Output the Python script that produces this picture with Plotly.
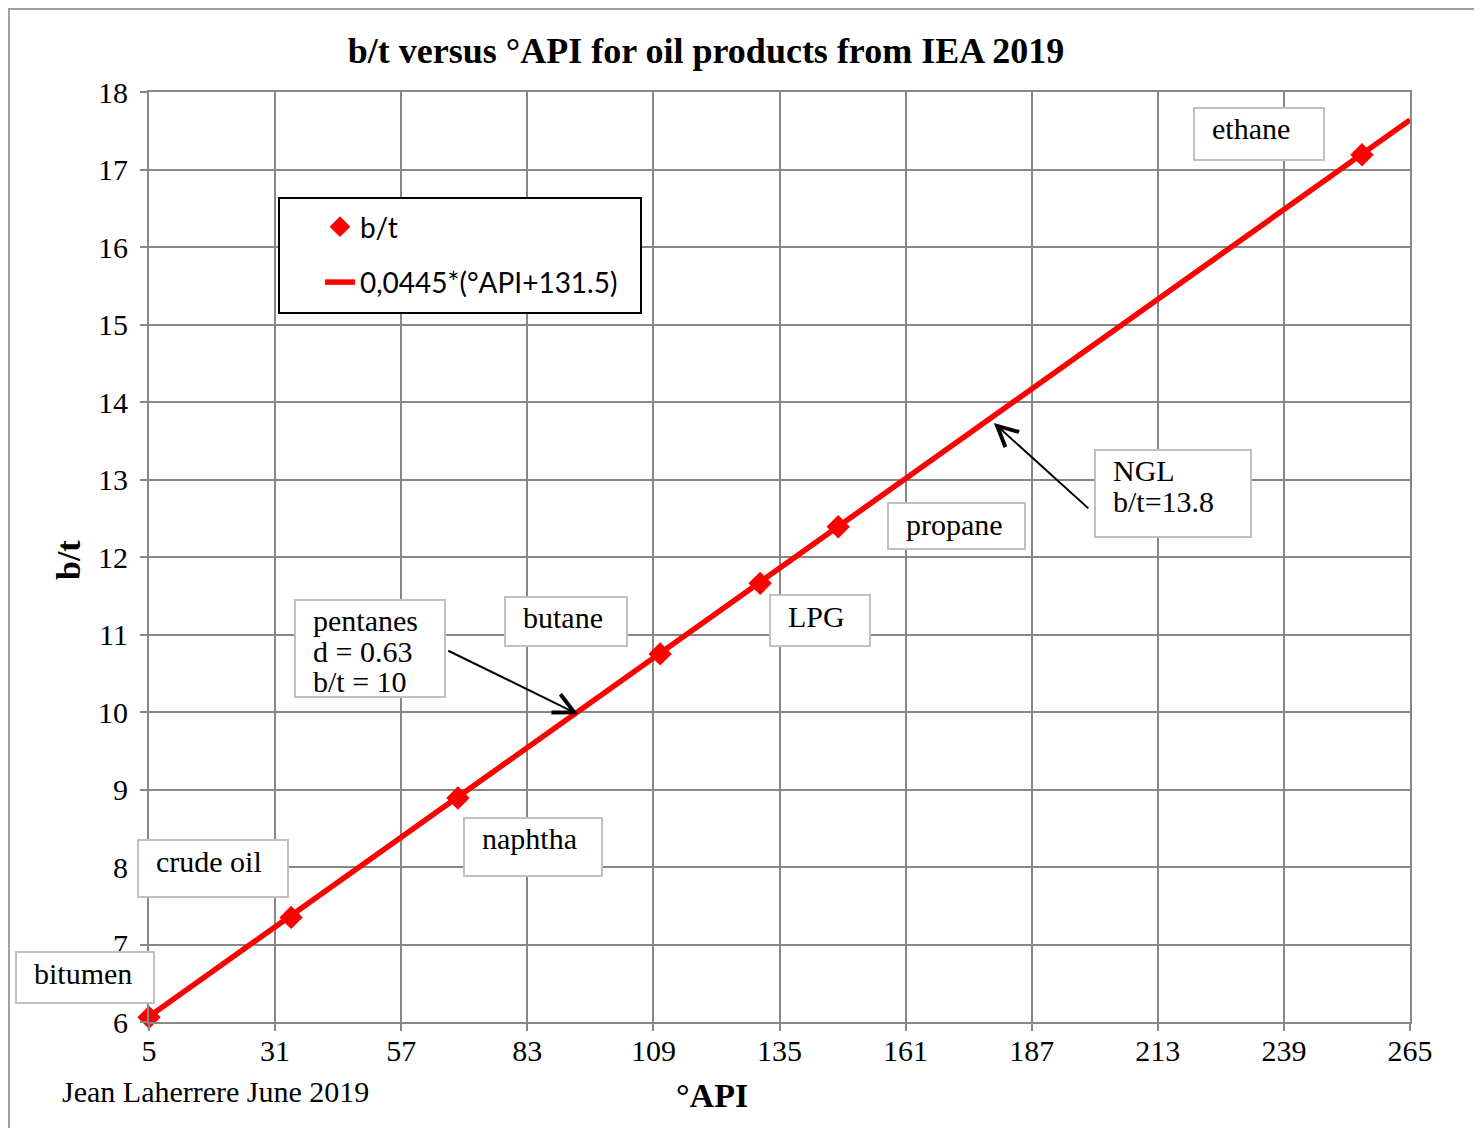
import plotly.graph_objects as go

# values
API = [5, 34.3, 68.7, 110.4, 131.0, 147.1, 255.1]
BT = [6.06, 7.35, 8.89, 10.75, 11.66, 12.39, 17.19]
FIT_API = [5, 265]
FIT_BT = [6.07, 17.64]
X_TICKS = [5, 31, 57, 83, 109, 135, 161, 187, 213, 239, 265]
Y_TICKS = [6, 7, 8, 9, 10, 11, 12, 13, 14, 15, 16, 17, 18]

LABELS = [["ethane"], ["NGL", "b/t=13.8"], ["propane"], ["LPG"], ["butane"],
          ["pentanes", "d = 0.63", "b/t = 10"], ["naphtha"], ["crude oil"], ["bitumen"]]
LABEL_X = [233.9, 216.1, 171.5, 143.4, 91.0, 50.6, 84.2, 18.2, -8.2]
LABEL_Y = [17.46, 12.82, 12.40, 11.18, 11.17, 10.82, 8.26, 7.98, 6.57]
LABEL_W = [132, 158, 139, 102, 124, 152, 140, 152, 140]
LABEL_H = [54, 89, 48, 53, 51, 99, 60, 59, 53]

# arrows: (tail x, tail y) -> (head x, head y)
ARROWS = [((199.0, 12.61), (179.2, 13.73)), ((66.4, 10.80), (93.5, 9.97))]

X_RANGE = [5, 265]
Y_RANGE = [6, 18]

RED = "#ff0000"
GRID = "#878787"
SERIF = "Liberation Serif, Times New Roman, serif"
SANS = "Lato, Open Sans, sans-serif"


def to_paper(x, y):
    # labels may sit outside the axis range (bitumen), so place them in paper units
    return ((x - X_RANGE[0]) / (X_RANGE[1] - X_RANGE[0]),
            (y - Y_RANGE[0]) / (Y_RANGE[1] - Y_RANGE[0]))


fig = go.Figure()
fig.add_trace(go.Scatter(
    x=API, y=BT, mode="markers", name="b/t", legendgroup="a",
    marker=dict(symbol="diamond", size=18, color=RED), cliponaxis=False))
fig.add_trace(go.Scatter(
    x=FIT_API, y=FIT_BT, mode="lines", name="0,0445*(°API+131.5)", legendgroup="b",
    line=dict(color=RED, width=5.5)))

# text boxes: an empty bordered box, then one annotation per line of text
for lines, x, y, w, h in zip(LABELS, LABEL_X, LABEL_Y, LABEL_W, LABEL_H):
    px, py = to_paper(x, y)
    fig.add_annotation(
        x=px, y=py, xref="paper", yref="paper", showarrow=False, text="\u00a0",
        xanchor="center", yanchor="middle",
        width=w - 4, height=h - 4, bgcolor="white", bordercolor="#c0c0c0",
        borderwidth=2, borderpad=0)
    for i, s in enumerate(lines):
        fig.add_annotation(
            x=px, y=py, xref="paper", yref="paper", showarrow=False, text=s,
            xanchor="left", yanchor="middle",
            xshift=-w / 2 + 17, yshift=h / 2 - 22 - 30.5 * i,
            font=dict(family=SERIF, size=30, color="black"))

for (tx, ty), (hx, hy) in ARROWS:
    fig.add_annotation(
        x=hx, y=hy, ax=tx, ay=ty, xref="x", yref="y", axref="x", ayref="y",
        text="", showarrow=True, arrowhead=5, arrowsize=2, arrowwidth=2,
        arrowcolor="black")

# axis titles and signature
fig.add_annotation(x=(704 - 141) / 1261, y=(1014 - 1087) / 930, xref="paper", yref="paper",
                   xanchor="center", yanchor="middle", text="<b>°API</b>", showarrow=False,
                   font=dict(family=SERIF, size=34, color="black"))
fig.add_annotation(x=(60 - 141) / 1261, y=(1014 - 552) / 930, xref="paper", yref="paper",
                   xanchor="center", yanchor="middle", text="<b>b/t</b>", showarrow=False,
                   textangle=-90, font=dict(family=SERIF, size=34, color="black"))
fig.add_annotation(x=(52 - 141) / 1261, y=(1014 - 1083) / 930, xref="paper", yref="paper",
                   xanchor="left", yanchor="middle", text="Jean Laherrere June 2019",
                   showarrow=False, font=dict(family=SERIF, size=30, color="black"))

# outer frame and legend box
fig.add_shape(type="rect", xref="paper", yref="paper",
              x0=(1 - 141) / 1261, x1=(1471 - 141) / 1261,
              y0=(1014 - 1140) / 930, y1=(1014 - 1) / 930,
              line=dict(color="#a0a0a0", width=2), layer="below")
fig.add_shape(type="rect", xref="paper", yref="paper",
              x0=130 / 1261, x1=492 / 1261, y0=(1014 - 305) / 930, y1=(1014 - 190) / 930,
              line=dict(color="black", width=2), fillcolor="white", layer="above")

axis = dict(showgrid=True, gridcolor=GRID, gridwidth=2, zeroline=False,
            showline=True, linecolor=GRID, linewidth=2, mirror=True,
            ticks="outside", ticklen=7, tickwidth=2, tickcolor=GRID,
            tickfont=dict(family=SERIF, size=30, color="black"))
fig.update_xaxes(range=X_RANGE, tickvals=X_TICKS, ticklabelstandoff=-6, **axis)
fig.update_yaxes(range=Y_RANGE, tickvals=Y_TICKS, ticklabelstandoff=6, **axis)

fig.update_layout(
    width=1466, height=1120,
    margin=dict(l=141, r=64, t=84, b=106),
    paper_bgcolor="white", plot_bgcolor="white",
    title=dict(text="<b>b/t versus °API for oil products from IEA 2019</b>",
               x=698 / 1466, xanchor="center", y=1 - 42 / 1120, yanchor="middle",
               font=dict(family=SERIF, size=36, color="black")),
    legend=dict(x=171 / 1261, y=(1014 - 194) / 930, xanchor="left", yanchor="top",
                bgcolor="rgba(0,0,0,0)", borderwidth=0, traceorder="grouped",
                tracegroupgap=16, font=dict(family=SANS, size=28, color="black")),
)

fig.write_html("out.html")
